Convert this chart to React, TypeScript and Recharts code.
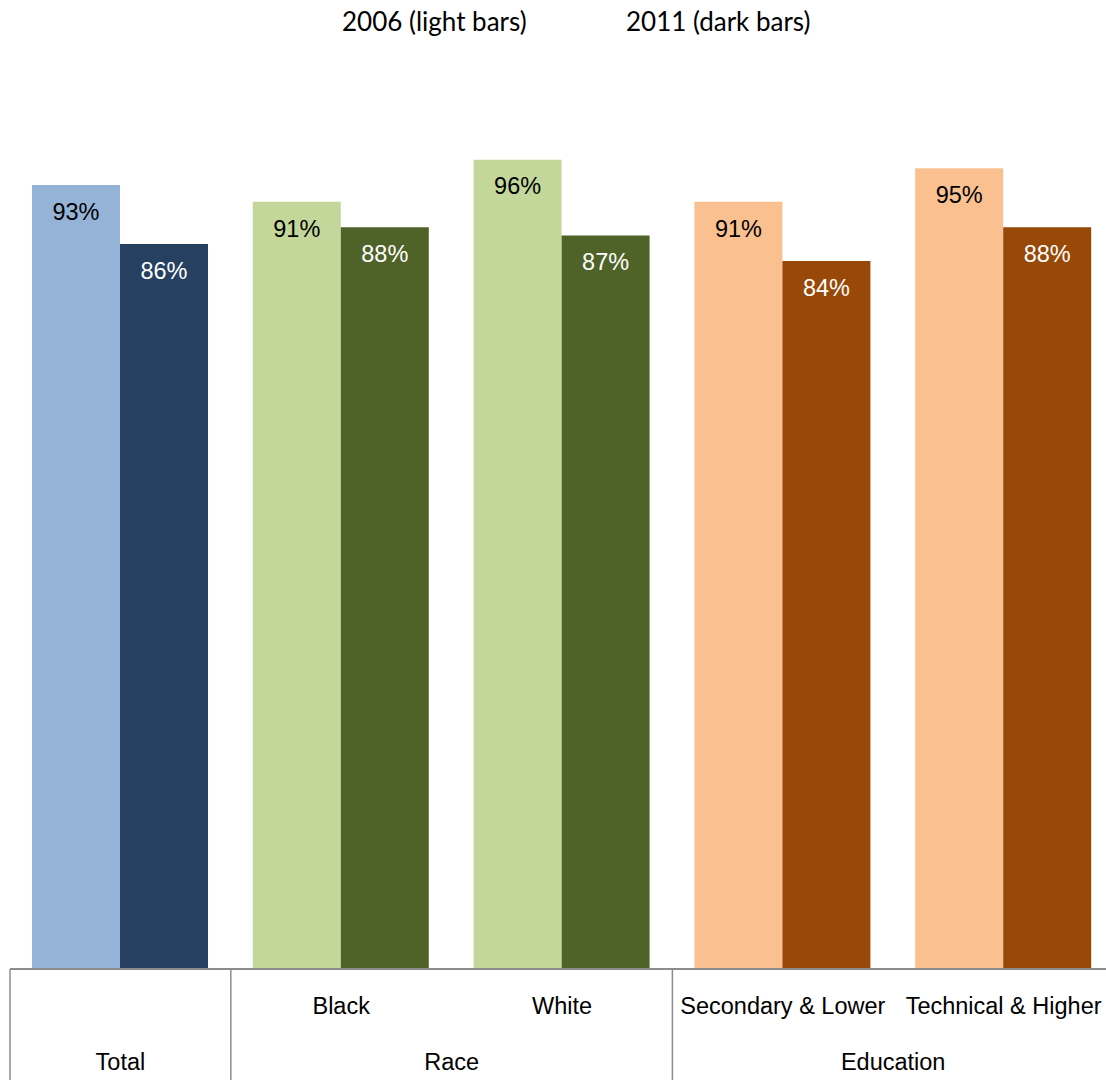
import { BarChart, Bar, XAxis, YAxis, Cell, LabelList } from "recharts";

const categories = ["Total", "Black", "White", "Secondary & Lower", "Technical & Higher"];
const subLabels = ["", "Black", "White", "Secondary & Lower", "Technical & Higher"];
const groupNames = ["Total", "Race", "Education"];
const groupStarts = [0, 1, 3];
const groupSpans = [1, 2, 2];

const values2006 = [93, 91, 96, 91, 95];
const values2011 = [86, 88, 87, 84, 88];

const lightColors = ["#95B3D7", "#C4D79B", "#C4D79B", "#FAC090", "#FAC090"];
const darkColors = ["#254061", "#4F6228", "#4F6228", "#984807", "#984807"];

const data = categories.map((name, i) => ({
  name,
  y2006: values2006[i],
  y2011: values2011[i],
}));

const CHART_W = 1114;
const CHART_H = 1080;
const AXIS_H = 111;
const MARGIN = { top: 126, right: 0, bottom: 0, left: 10 };
const BAND = (CHART_W - MARGIN.left - MARGIN.right) / categories.length;
const AXIS_Y = CHART_H - AXIS_H;
const LINE = "#8c8c8c";
const ARIAL = "'Liberation Sans', Arial, sans-serif";
const FS = 23.5;

function CategoryTick(props: any) {
  const { x, index } = props;
  const g = groupStarts.indexOf(index);
  return (
    <g>
      <text
        x={x}
        y={AXIS_Y + 37}
        textAnchor="middle"
        dominantBaseline="central"
        fontFamily={ARIAL}
        fontSize={FS}
        fill="#000"
      >
        {subLabels[index]}
      </text>
      {g >= 0 && (
        <>
          <line
            x1={x - BAND / 2}
            x2={x - BAND / 2}
            y1={AXIS_Y}
            y2={CHART_H}
            stroke={LINE}
            strokeWidth={1.5}
          />
          <text
            x={x - BAND / 2 + (BAND * groupSpans[g]) / 2}
            y={AXIS_Y + 93}
            textAnchor="middle"
            dominantBaseline="central"
            fontFamily={ARIAL}
            fontSize={FS}
            fill="#000"
          >
            {groupNames[g]}
          </text>
        </>
      )}
      {index === categories.length - 1 && (
        <line
          x1={x + BAND / 2}
          x2={x + BAND / 2}
          y1={AXIS_Y}
          y2={CHART_H}
          stroke={LINE}
          strokeWidth={1.5}
        />
      )}
    </g>
  );
}

const pct = (v: any) => `${v}%`;

export default function App() {
  return (
    <div
      style={{
        position: "fixed",
        top: 0,
        left: 0,
        width: 1106,
        height: 1080,
        overflow: "hidden",
        background: "#fff",
      }}
    >
      <div
        style={{
          position: "absolute",
          top: 0,
          left: 0,
          width: 1106,
          height: 46,
          fontFamily: "Lato, 'Open Sans', sans-serif",
          fontSize: 26,
          color: "#000",
        }}
      >
        <span style={{ position: "absolute", left: 342, top: 5 }}>2006 (light bars)</span>
        <span style={{ position: "absolute", left: 626, top: 5 }}>2011 (dark bars)</span>
      </div>
      <BarChart
        width={CHART_W}
        height={CHART_H}
        data={data}
        margin={MARGIN}
        barCategoryGap={22}
        barGap={0}
      >
        <XAxis
          dataKey="name"
          height={AXIS_H}
          axisLine={{ stroke: LINE, strokeWidth: 2 }}
          tickLine={false}
          interval={0}
          tick={<CategoryTick />}
        />
        <YAxis hide domain={[0, 100]} />
        <Bar dataKey="y2006" isAnimationActive={false}>
          {data.map((_, i) => (
            <Cell key={i} fill={lightColors[i]} />
          ))}
          <LabelList
            dataKey="y2006"
            position="insideTop"
            offset={18}
            formatter={pct}
            fill="#000"
            fontFamily={ARIAL}
            fontSize={FS}
          />
        </Bar>
        <Bar dataKey="y2011" isAnimationActive={false}>
          {data.map((_, i) => (
            <Cell key={i} fill={darkColors[i]} />
          ))}
          <LabelList
            dataKey="y2011"
            position="insideTop"
            offset={18}
            formatter={pct}
            fill="#fff"
            fontFamily={ARIAL}
            fontSize={FS}
          />
        </Bar>
      </BarChart>
    </div>
  );
}
